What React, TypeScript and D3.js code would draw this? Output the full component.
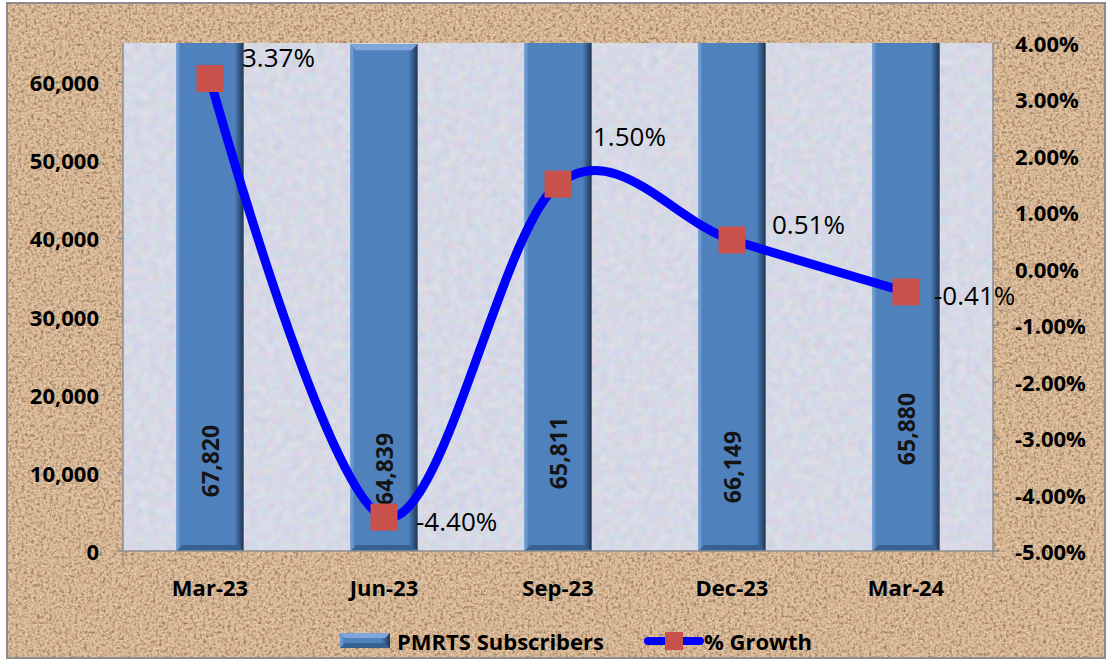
import React from "react";
import * as d3 from "d3";

const categories = ["Mar-23", "Jun-23", "Sep-23", "Dec-23", "Mar-24"];
const subscribers = [67820, 64839, 65811, 66149, 65880];
const growth = [3.37, -4.4, 1.5, 0.51, -0.41];
const leftTicks = [0, 10000, 20000, 30000, 40000, 50000, 60000];
const rightTicks = [4, 3, 2, 1, 0, -1, -2, -3, -4, -5];
const seriesNames = ["PMRTS Subscribers", "% Growth"];

// layout (pixel) tweaks for labels
const barLabelRise = [90, 82, 98, 84, 122];
const growthLabelOffset: [number, number][] = [
  [32, -22],
  [32, 4],
  [35, -48],
  [40, -16],
  [28, 3],
];

const W = 1109;
const H = 662;
const PL = 123, PR = 993, PT = 43, PB = 551;
const FONT = "'Open Sans', 'Noto Sans', sans-serif";

export default function App() {
  const x = d3.scaleBand<string>().domain(categories).range([PL, PR]);
  const yL = d3.scaleLinear().domain([0, 65000]).range([PB, PT]);
  const yR = d3.scaleLinear().domain([-5, 4]).range([PB, PT]);
  const cx = (c: string) => (x(c) as number) + x.bandwidth() / 2;
  const bw = x.bandwidth() * 0.385;
  const pts: [number, number][] = categories.map((c, i) => [cx(c), yR(growth[i])]);
  const line = d3.line().curve(d3.curveCardinal.tension(0))(pts) as string;
  const fmt = d3.format(",");
  const pct = (v: number) => v.toFixed(2) + "%";
  const ms = 27;

  const bar = (bx: number, by: number, w: number, h: number, key: string | number) => {
    const b = Math.min(6, h / 3);
    return (
      <g key={key}>
        <rect x={bx} y={by} width={w} height={h} fill="#4F81BD" />
        <rect x={bx} y={by} width={3} height={h} fill="#6A98D0" />
        <rect x={bx + w - 9} y={by} width={9} height={h} fill="url(#barRight)" />
        <path d={`M${bx},${by}L${bx + w},${by}L${bx + w - b},${by + b}L${bx + b},${by + b}Z`} fill="#7FA7DA" />
        <path d={`M${bx},${by + h}L${bx + w},${by + h}L${bx + w - b},${by + h - b}L${bx + b},${by + h - b}Z`} fill="#35608F" />
      </g>
    );
  };

  return (
    <svg width={W} height={H} style={{ position: "absolute", left: 0, top: 0 }} fontFamily={FONT}>
      <defs>
        <filter id="cork" x="0" y="0" width="1" height="1" filterUnits="objectBoundingBox" colorInterpolationFilters="sRGB">
          <feFlood floodColor="#D9B895" result="base" />
          <feTurbulence type="fractalNoise" baseFrequency="0.32" numOctaves="3" seed="4" result="n1" />
          <feColorMatrix in="n1" type="matrix" values="0 0 0 0 0.58  0 0 0 0 0.44  0 0 0 0 0.32  2.4 0 0 0 -1.05" result="dark" />
          <feTurbulence type="fractalNoise" baseFrequency="0.5" numOctaves="2" seed="9" result="n2" />
          <feColorMatrix in="n2" type="matrix" values="0 0 0 0 0.96  0 0 0 0 0.87  0 0 0 0 0.77  0 2.2 0 0 -1.02" result="light" />
          <feMerge>
            <feMergeNode in="base" />
            <feMergeNode in="dark" />
            <feMergeNode in="light" />
          </feMerge>
        </filter>
        <filter id="paper" x="0" y="0" width="1" height="1" filterUnits="objectBoundingBox" colorInterpolationFilters="sRGB">
          <feTurbulence type="fractalNoise" baseFrequency="0.12" numOctaves="4" seed="2" result="n" />
          <feColorMatrix in="n" type="matrix" values="0.14 0 0 0 0.77  0 0.1 0 0 0.80  0 0 0.1 0 0.85  0 0 0 0 1" />
        </filter>
        <linearGradient id="barRight" x1="0" x2="1" y1="0" y2="0">
          <stop offset="0" stopColor="#4F81BD" />
          <stop offset="1" stopColor="#1E3553" />
        </linearGradient>
        <clipPath id="plotClip">
          <rect x={PL} y={PT} width={PR - PL} height={PB - PT} />
        </clipPath>
      </defs>

      {/* chart background */}
      <rect x={7} y={3} width={1098} height={655} fill="#D9B895" filter="url(#cork)" />
      <rect x={7} y={3} width={1098} height={655} fill="none" stroke="#8C8C8C" strokeWidth={2} />

      {/* plot area */}
      <rect x={PL} y={PT} width={PR - PL} height={PB - PT} fill="#D7D7E4" filter="url(#paper)" />

      {/* bars */}
      <g clipPath="url(#plotClip)">
        {categories.map((c, i) => {
          const top = yL(subscribers[i]);
          return bar(cx(c) - bw / 2, top, bw, PB - top, c);
        })}
      </g>

      {/* axes */}
      <g stroke="#8E8E8E" strokeWidth={1.5}>
        <line x1={PL} x2={PL} y1={PT} y2={PB} />
        <line x1={PR} x2={PR} y1={PT} y2={PB} />
        <line x1={PL} x2={PR} y1={PB} y2={PB} />
        {leftTicks.map((t) => (
          <line key={"lt" + t} x1={PL - 6} x2={PL} y1={yL(t)} y2={yL(t)} />
        ))}
        {rightTicks.map((t) => (
          <line key={"rt" + t} x1={PR} x2={PR + 6} y1={yR(t)} y2={yR(t)} />
        ))}
        {categories.map((c) => (
          <line key={"xt" + c} x1={x(c)} x2={x(c)} y1={PB} y2={PB + 6} />
        ))}
        <line x1={PR} x2={PR} y1={PB} y2={PB + 6} />
      </g>

      <g fontWeight="bold" fontSize={22} fill="#000">
        {leftTicks.map((t) => (
          <text key={"ll" + t} x={99} y={yL(t)} textAnchor="end" dominantBaseline="central">
            {fmt(t)}
          </text>
        ))}
      </g>
      <g fontWeight="bold" fontSize={22} fill="#000">
        {rightTicks.map((t) => (
          <text key={"rl" + t} x={1015} y={yR(t)} textAnchor="start" dominantBaseline="central">
            {pct(t)}
          </text>
        ))}
      </g>
      <g fontWeight="bold" fontSize={22} fill="#000">
        {categories.map((c) => (
          <text key={"xl" + c} x={cx(c)} y={587} textAnchor="middle" dominantBaseline="central">
            {c}
          </text>
        ))}
      </g>

      {/* bar value labels */}
      <g fontWeight="bold" fontSize={23} fill="#141414">
        {categories.map((c, i) => {
          const ly = PB - barLabelRise[i];
          return (
            <text key={"bl" + c} transform={`translate(${cx(c)},${ly}) rotate(-90)`} textAnchor="middle" dominantBaseline="central">
              {fmt(subscribers[i])}
            </text>
          );
        })}
      </g>

      {/* growth line */}
      <path d={line} fill="none" stroke="#0000FF" strokeWidth={9} strokeLinecap="round" strokeLinejoin="round" />
      {pts.map(([px, py], i) => (
        <rect key={"m" + i} x={px - ms / 2} y={py - ms / 2} width={ms} height={ms} fill="#C9514B" />
      ))}
      <g fontSize={26} fill="#000">
        {pts.map(([px, py], i) => (
          <text key={"gl" + i} x={px + growthLabelOffset[i][0]} y={py + growthLabelOffset[i][1]} dominantBaseline="central">
            {pct(growth[i])}
          </text>
        ))}
      </g>

      {/* legend */}
      <g>
        {bar(340, 633, 50, 15, "legbar")}
        <text x={397} y={641} fontWeight="bold" fontSize={22} dominantBaseline="central">
          {seriesNames[0]}
        </text>
        <line x1={648} x2={700} y1={641} y2={641} stroke="#0000FF" strokeWidth={8} strokeLinecap="round" />
        <rect x={665} y={632} width={18} height={18} fill="#C9514B" />
        <text x={704} y={641} fontWeight="bold" fontSize={22} dominantBaseline="central">
          {seriesNames[1]}
        </text>
      </g>
    </svg>
  );
}
